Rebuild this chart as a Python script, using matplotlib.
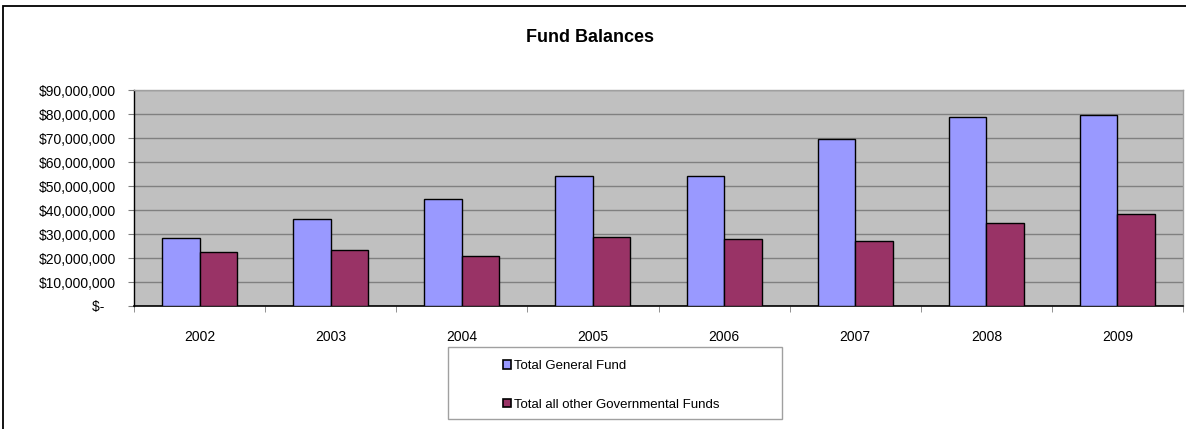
import numpy as np
import matplotlib
matplotlib.use("Agg")
import matplotlib.pyplot as plt
from matplotlib.patches import Rectangle, Patch

plt.rcParams['font.family'] = ['Liberation Sans', 'DejaVu Sans']

# fund balances by fiscal year
years = ["2002", "2003", "2004", "2005", "2006", "2007", "2008", "2009"]
general_fund = [28.3e6, 36.1e6, 44.4e6, 54.3e6, 54.3e6, 69.7e6, 78.9e6, 79.6e6]
other_funds = [22.6e6, 23.3e6, 20.8e6, 28.6e6, 28.1e6, 27.0e6, 34.6e6, 38.2e6]
y_ticks = [0, 10e6, 20e6, 30e6, 40e6, 50e6, 60e6, 70e6, 80e6, 90e6]
y_labels = ["$-   ", "$10,000,000", "$20,000,000", "$30,000,000", "$40,000,000",
            "$50,000,000", "$60,000,000", "$70,000,000", "$80,000,000", "$90,000,000"]

W, H = 1186, 429
fig = plt.figure(figsize=(W / 100, H / 100), dpi=100)

# outer chart border
fig.patches.append(Rectangle((3 / W, -0.2), 1.2, 1.2 - 6 / H, transform=fig.transFigure,
                             fill=False, edgecolor="black", linewidth=1.3))

ax = fig.add_axes([134 / W, 1 - 306 / H, (1183 - 134) / W, (306 - 90) / H])
ax.set_facecolor("#C0C0C0")

x = np.arange(len(years))
bw = 0.286
b1 = ax.bar(x - bw / 2, general_fund, bw, color="#9999FF", edgecolor="black",
            linewidth=1.0, label="Total General Fund", zorder=3)
b2 = ax.bar(x + bw / 2, other_funds, bw, color="#993366", edgecolor="black",
            linewidth=1.0, label="Total all other Governmental Funds", zorder=3)

ax.set_xlim(-0.5, len(years) - 0.5)
ax.set_ylim(0, 90e6)
ax.set_yticks(y_ticks)
ax.set_yticklabels(y_labels, fontsize=10)
ax.yaxis.grid(True, color="#808080", linewidth=1.0, zorder=0)
ax.set_axisbelow(True)

ax.set_xticks(x)
ax.set_xticklabels(years, fontsize=10)
ax.set_xticks(np.arange(len(years) + 1) - 0.5, minor=True)
ax.tick_params(axis="x", which="major", length=0, pad=17)
ax.tick_params(axis="x", which="minor", length=4, color="#808080", direction="out")
ax.tick_params(axis="y", length=4, color="#808080", pad=9)

for side in ("top", "right"):
    ax.spines[side].set_color("#A0A0A0")
    ax.spines[side].set_linewidth(1.0)
ax.spines["left"].set_color("black")
ax.spines["bottom"].set_color("black")
ax.spines["bottom"].set_linewidth(1.2)
ax.spines["left"].set_linewidth(1.0)

fig.text(590 / W, 1 - 38 / H, "Fund Balances", ha="center", va="center",
         fontsize=13, fontweight="bold")

# legend box
fig.patches.append(Rectangle((448 / W, 1 - 419 / H), (782 - 448) / W, (419 - 347) / H,
                             transform=fig.transFigure, facecolor="white",
                             edgecolor="#A0A0A0", linewidth=1.0, zorder=1))
handles = [Patch(facecolor="#9999FF", edgecolor="black", linewidth=1.2),
           Patch(facecolor="#993366", edgecolor="black", linewidth=1.2)]
leg = fig.legend(handles, [b1.get_label(), b2.get_label()], loc="upper left",
                 bbox_to_anchor=(494 / W, 1 - 351 / H), frameon=False, fontsize=9.5,
                 handlelength=0.6, handleheight=0.6, handletextpad=0.2,
                 labelspacing=2.0, borderpad=0.2)

fig.savefig("out.png", dpi=100)
